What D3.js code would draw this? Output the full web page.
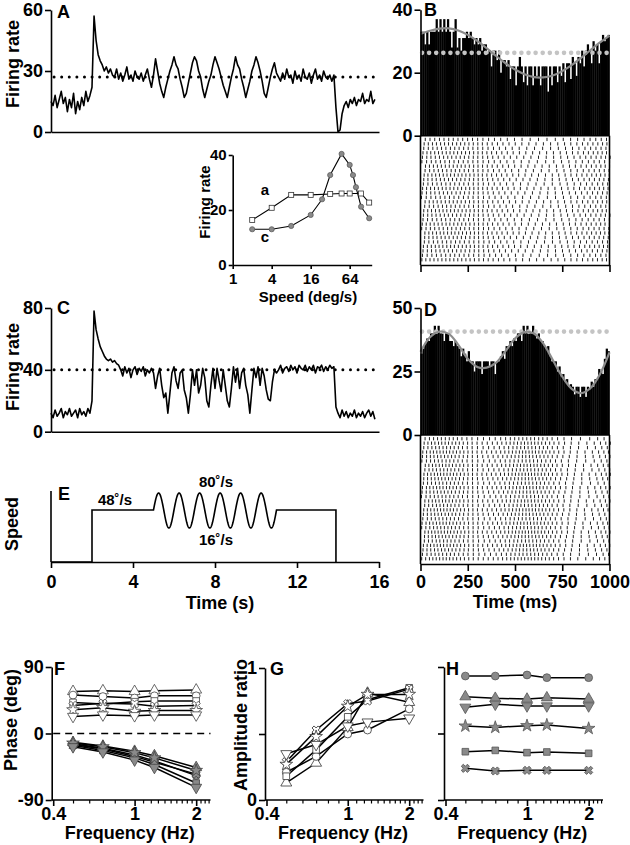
<!DOCTYPE html>
<html>
<head>
<meta charset="utf-8">
<script src="https://cdn.jsdelivr.net/npm/d3@7"></script>
<style>
  body { margin: 0; background: #fff; }
  svg { display: block; font-family: "Liberation Sans", Arial, Helvetica, sans-serif; font-weight: bold; }
</style>
</head>
<body>
<svg width="630" height="845"></svg>
<script>
// ---------------- data ----------------
// A and C: firing rate sampled every 0.1 s from 0 to 15.8 s
const traceStep = 0.1;
const rateA = [15, 13, 18, 12, 16, 20, 14, 17, 10, 16, 12, 19, 9, 15, 11, 17, 13, 20, 15, 18,
  22, 57, 45, 38, 35, 33, 30, 32, 29, 31, 28,
  27, 31, 26, 29, 25, 28, 32, 26, 28, 25, 30, 27, 26, 29, 25, 28, 31, 26, 22,
  28, 36, 30, 24, 20, 17, 22, 26, 30, 33,
  37, 33, 31, 26, 22, 17, 19, 24, 29, 34,
  37, 35, 30, 27, 21, 17, 21, 25, 28, 33,
  37, 34, 31, 27, 23, 20, 17, 22, 27, 31,
  37, 33, 31, 26, 22, 17, 21, 25, 30, 33,
  37, 34, 30, 25, 19, 17, 22, 27, 31, 34, 29,
  27, 25, 29, 26, 31, 27, 28, 24, 30, 26, 28, 25, 31, 27, 26, 29, 24, 28, 31, 26, 28, 25, 30, 27, 26, 28, 25, 28,
  12, 0, 1, 9, 13, 15, 12, 16, 14, 17, 13, 16, 15, 19, 14, 16, 15, 20, 14, 16];
const rateC = [12, 9, 14, 10, 12, 15, 9, 13, 11, 15, 10, 12, 14, 9, 15, 11, 13, 10, 15, 12,
  20, 78, 66, 60, 55, 52, 49, 47, 46, 47, 45, 46, 44, 43,
  40, 36, 42, 38, 41, 35, 40, 42, 37, 41, 39, 42, 36, 40, 38, 41,
  38, 28, 36, 41, 30, 22, 25, 12, 25, 38,
  42, 33, 28, 38, 40, 27, 22, 12, 24, 40,
  30, 40, 25, 30, 41, 35, 20, 16, 30, 41,
  28, 41, 33, 26, 40, 30, 20, 16, 28, 42,
  32, 41, 28, 38, 41, 30, 24, 12, 27, 41,
  35, 42, 30, 41, 36, 27, 21, 20, 32, 40, 38,
  40, 43, 38, 41, 42, 39, 43, 40, 42, 38, 43, 41, 40, 43, 39, 42, 40, 43, 38, 42, 41, 43, 39, 42, 40, 43, 41, 42,
  16, 12, 9, 14, 10, 13, 9, 12, 10, 14, 9, 12, 10, 13, 9, 12, 14, 10, 13, 8];
const meanA = 27;
const meanC = 40;

// inset: speed tuning
const insetSpeedA = [2, 4, 8, 16, 32, 48, 64, 96, 128];
const insetRateA = [16.4, 20.8, 25.5, 25.5, 25.8, 26, 26, 26, 22.7];
const insetSpeedC = [2, 4, 8, 16, 24, 32, 48, 64, 72, 80, 96, 128];
const insetRateC = [13, 13, 14.2, 18.2, 23.9, 32.7, 40.4, 36.4, 32.7, 28.3, 21.2, 17];

// E: stimulus speed schematic
const stimOn = 2, stimOff = 13.9, sineOn = 5, sineOff = 11, sineCycles = 6;
const speedBase = 48, speedMax = 80, speedMin = 16;

// B and D: PSTH (10 ms bins), sinusoid fit (every 50 ms), mean rate
const binMs = 10;
const histB = [33, 33, 29, 33, 29, 33, 33, 33, 37, 33,
  37, 33, 37, 33, 37, 33, 28, 33, 37, 28,
  31, 27, 31, 31, 33, 31, 33, 31, 29, 31,
  29, 31, 27, 29, 29, 26, 27, 22, 27, 27,
  24, 27, 20, 24, 24, 22, 24, 18, 22, 22,
  16, 22, 25, 22, 17, 22, 16, 22, 22, 16,
  22, 19, 22, 16, 22, 22, 22, 14, 22, 16,
  22, 22, 17, 22, 19, 23, 17, 23, 23, 18,
  25, 23, 19, 25, 23, 27, 22, 27, 29, 27,
  23, 30, 27, 29, 23, 30, 32, 30, 31, 32];
const histD = [32, 34, 36, 38, 37, 40, 40, 43, 40, 43,
  40, 40, 37, 40, 40, 37, 37, 35, 37, 35,
  34, 31, 34, 32, 29, 33, 29, 29, 25, 29,
  29, 29, 24, 29, 29, 29, 27, 29, 29, 24,
  29, 29, 31, 33, 30, 35, 35, 37, 35, 38,
  37, 40, 40, 37, 43, 40, 43, 40, 40, 43,
  40, 38, 40, 37, 37, 35, 34, 35, 31, 29,
  29, 29, 25, 27, 23, 24, 21, 22, 19, 20,
  19, 16, 19, 19, 15, 19, 19, 15, 19, 18,
  21, 19, 22, 22, 26, 25, 24, 30, 34, 33];
const fitStepMs = 50;
const fitB = [32.3, 33.3, 34.0, 34.1, 33.4, 32.0, 30.1, 27.8, 25.3, 23.0, 21.0,
  19.5, 18.6, 18.5, 19.1, 20.5, 22.4, 24.7, 27.2, 29.6, 31.8];
const fitD = [32.8, 38.5, 40.7, 39.8, 35.5, 30.0, 26.8, 26.5, 28.5, 33.0, 38.0,
  40.5, 40.0, 36.0, 29.5, 23.0, 18.2, 16.5, 18.5, 24.0, 32.5];
const meanB = 26.3;
const meanD = 40.7;
const nTrials = 28;

// F, G, H: one row per cell, same symbol order in every panel
const freqs = [0.5, 0.7, 1, 1.25, 2];
const cellShapes = ["triUp", "circle", "square", "cross", "star", "triDown"];
const phaseLead = [[57, 58, 57, 58, 59], [52, 50, 48, 51, 51], [42, 40, 43, 44, 44],
  [38, 41, 40, 37, 38], [32, 35, 30, 31, 31], [23, 25, 24, 25, 25]];
const phaseLag = [[-12, -17, -24, -30, -46], [-14, -20, -29, -37, -57], [-16, -23, -33, -42, -67],
  [-15, -21, -31, -39, -55], [-13, -18, -26, -33, -50], [-18, -25, -36, -46, -73]];
const ampRatioG = [[0.13, 0.28, 0.55, 0.81, 0.74], [0.21, 0.33, 0.50, 0.53, 0.69], [0.18, 0.38, 0.63, 0.76, 0.85],
  [0.29, 0.53, 0.73, 0.75, 0.84], [0.27, 0.48, 0.71, 0.80, 0.80], [0.35, 0.42, 0.56, 0.59, 0.62]];
const ampRatioH = [[0.777, 0.765, 0.759, 0.769, 0.759], [0.932, 0.932, 0.94, 0.92, 0.92], [0.363, 0.373, 0.356, 0.361, 0.351],
  [0.238, 0.218, 0.223, 0.223, 0.223], [0.556, 0.546, 0.559, 0.564, 0.538], [0.697, 0.72, 0.707, 0.707, 0.707]];
const freqTicks = [0.4, 0.5, 0.6, 0.7, 0.8, 0.9, 1, 1.1, 1.2, 1.3, 1.4, 1.5, 1.6, 1.7, 1.8, 1.9, 2, 2.1, 2.2, 2.3];
const freqLabels = [0.4, 1, 2];

// ---------------- drawing ----------------
const svg = d3.select("svg");

function styleAxis(g, fs) {
  g.attr("font-family", null).attr("font-size", fs).attr("font-weight", "bold");
  g.select(".domain").attr("stroke", "#000").attr("stroke-width", 1.6);
  g.selectAll(".tick line").attr("stroke", "#000").attr("stroke-width", 1.6);
  g.selectAll(".tick text").attr("fill", "#000");
}

function label(x, y, s, fs, anchor, rotate) {
  const t = svg.append("text")
    .attr("font-size", fs)
    .attr("text-anchor", anchor || "start")
    .text(s);
  if (rotate) t.attr("transform", `translate(${x},${y}) rotate(-90)`);
  else t.attr("x", x).attr("y", y);
  return t;
}

// ---- A and C: firing-rate traces ----
const xT = d3.scaleLinear().domain([0, 16]).range([51, 379]);

function tracePanel(rates, mean, y, ticks, letter, letterY) {
  const pts = rates.map((v, i) => [i * traceStep, v]);
  svg.append("line")
    .attr("x1", xT(0.15)).attr("x2", xT(15.9))
    .attr("y1", y(mean)).attr("y2", y(mean))
    .attr("stroke", "#000").attr("stroke-width", 3)
    .attr("stroke-linecap", "round").attr("stroke-dasharray", "0 7.6");
  svg.append("path").datum(pts)
    .attr("d", d3.line().x(d => xT(d[0])).y(d => y(d[1])))
    .attr("fill", "none").attr("stroke", "#000")
    .attr("stroke-width", 1.6).attr("stroke-linejoin", "round");
  svg.append("g").attr("transform", `translate(${xT(0)},0)`)
    .call(d3.axisLeft(y).tickValues(ticks).tickSize(6).tickPadding(2).tickSizeOuter(0))
    .call(styleAxis, 18);
  svg.append("g").attr("transform", `translate(0,${y(0)})`)
    .call(d3.axisBottom(xT).tickValues([]).tickSizeOuter(0))
    .call(styleAxis, 18);
  label(57, letterY, letter, 18);
}

const yA = d3.scaleLinear().domain([0, 60]).range([132, 10]);
tracePanel(rateA, meanA, yA, [0, 30, 60], "A", 18);
label(19, 64, "Firing rate", 18, "middle", true);

const yC = d3.scaleLinear().domain([0, 80]).range([431.7, 308]);
tracePanel(rateC, meanC, yC, [0, 40, 80], "C", 314);
label(19, 367, "Firing rate", 18, "middle", true);

// ---- inset: speed tuning ----
const xIn = d3.scaleLog().base(2).domain([1, 140]).range([232.7, 371.7]);
const yIn = d3.scaleLinear().domain([0, 40]).range([265, 155]);
const inLine = d3.line().x(d => xIn(d[0])).y(d => yIn(d[1]));
const ptsInA = insetSpeedA.map((s, i) => [s, insetRateA[i]]);
const ptsInC = insetSpeedC.map((s, i) => [s, insetRateC[i]]);
svg.append("path").datum(ptsInA).attr("d", inLine).attr("fill", "none").attr("stroke", "#000").attr("stroke-width", 1.1);
svg.append("path").datum(ptsInC).attr("d", inLine).attr("fill", "none").attr("stroke", "#000").attr("stroke-width", 1.1);
svg.selectAll(".inC").data(ptsInC).enter().append("circle")
  .attr("cx", d => xIn(d[0])).attr("cy", d => yIn(d[1])).attr("r", 2.6)
  .attr("fill", "#8a8a8a").attr("stroke", "#555").attr("stroke-width", 0.7);
svg.selectAll(".inA").data(ptsInA).enter().append("rect")
  .attr("x", d => xIn(d[0]) - 2.5).attr("y", d => yIn(d[1]) - 2.5)
  .attr("width", 5).attr("height", 5)
  .attr("fill", "#fff").attr("stroke", "#333").attr("stroke-width", 0.8);
svg.append("g").attr("transform", `translate(${xIn(1)},0)`)
  .call(d3.axisLeft(yIn).tickValues([0, 20, 40]).tickSize(4).tickPadding(2).tickSizeOuter(0))
  .call(styleAxis, 15);
svg.append("g").attr("transform", `translate(0,${yIn(0)})`)
  .call(d3.axisBottom(xIn).tickValues([1, 4, 16, 64]).tickFormat(d3.format("d")).tickSize(4).tickPadding(4).tickSizeOuter(0))
  .call(styleAxis, 15);
label(265, 195, "a", 15, "middle");
label(265, 242, "c", 15, "middle");
label(308, 302, "Speed (deg/s)", 15, "middle");
label(210, 202, "Firing rate", 15, "middle", true);

// ---- E: speed schematic ----
const yE = d3.scaleLinear().domain([0, speedMin, speedBase, speedMax]).range([562, 528, 510, 493]);
const speedPts = [[0, 0], [stimOn, 0], [stimOn, speedBase], [sineOn, speedBase]];
for (let t = sineOn; t <= sineOff + 1e-9; t += 0.02) {
  const amp = (speedMax - speedMin) / 2;
  speedPts.push([t, speedBase + amp * Math.sin(2 * Math.PI * (t - sineOn) * sineCycles / (sineOff - sineOn))]);
}
speedPts.push([sineOff, speedBase], [stimOff, speedBase], [stimOff, 0]);
svg.append("path").datum(speedPts)
  .attr("d", d3.line().x(d => xT(d[0])).y(d => yE(d[1])))
  .attr("fill", "none").attr("stroke", "#000").attr("stroke-width", 1.6);
svg.append("line").attr("x1", xT(0)).attr("x2", xT(0)).attr("y1", yE(0)).attr("y2", yE(84))
  .attr("stroke", "#000").attr("stroke-width", 1.6);
svg.append("g").attr("transform", `translate(0,${yE(0)})`)
  .call(d3.axisBottom(xT).tickValues([0, 4, 8, 12, 16]).tickSize(6).tickPadding(7).tickSizeOuter(0))
  .call(styleAxis, 18);
label(58, 500, "E", 18);
label(115, 505, "48˚/s", 15, "middle");
label(216, 487, "80˚/s", 15, "middle");
label(216, 545, "16˚/s", 15, "middle");
label(220, 609, "Time (s)", 18, "middle");
label(18, 524, "Speed", 18, "middle", true);

// ---- B and D: PSTH + raster ----
const xP = d3.scaleLinear().domain([0, 1000]).range([420.5, 609.5]);

function fitRate(fit, t) {
  const p = t / fitStepMs, i = Math.min(Math.floor(p), fit.length - 2), f = p - i;
  return fit[i] * (1 - f) + fit[i + 1] * f;
}

function psthPanel(hist, fit, mean, y, ticks, rasterBot, showLabels, letter, letterY) {
  const bw = xP(binMs) - xP(0);
  svg.selectAll(null).data(hist).enter().append("rect")
    .attr("x", (d, i) => xP(i * binMs)).attr("width", bw + 0.35)
    .attr("y", d => y(d)).attr("height", d => y(0) - y(d))
    .attr("fill", "#000");
  svg.append("line")
    .attr("x1", xP(8)).attr("x2", xP(995)).attr("y1", y(mean)).attr("y2", y(mean))
    .attr("stroke", "#c4c4c4").attr("stroke-width", 4.6)
    .attr("stroke-linecap", "round").attr("stroke-dasharray", "0 7.1");
  const fitPts = fit.map((v, i) => [i * fitStepMs, v]);
  svg.append("path").datum(fitPts)
    .attr("d", d3.line().x(d => xP(d[0])).y(d => y(d[1])).curve(d3.curveCatmullRom))
    .attr("fill", "none").attr("stroke", "#8c8c8c").attr("stroke-width", 2.2);

  // raster rows: individual spikes cannot be read, so each trial's spikes are
  // placed by integrating the fitted rate (trial-specific start phase and gain)
  const top = y(0) + 1.5, rowH = (rasterBot - 3 - top) / nTrials;
  const ticksR = [];
  for (let r = 0; r < nTrials; r++) {
    let acc = (r * 0.137 + 0.21) % 1;
    const gain = 1.35 + 0.3 * (((r * 0.618034) % 1) - 0.5);
    for (let t = 0; t < 1000; t++) {
      acc += gain * fitRate(fit, t) / 1000;
      if (acc >= 1) { ticksR.push([t, r]); acc -= 1; }
    }
  }
  svg.selectAll(null).data(ticksR).enter().append("line")
    .attr("x1", d => xP(d[0]) + 1).attr("x2", d => xP(d[0]) + 1)
    .attr("y1", d => top + d[1] * rowH + 0.6).attr("y2", d => top + d[1] * rowH + rowH - 0.6)
    .attr("stroke", "#222").attr("stroke-width", 1);

  svg.append("line").attr("x1", xP(0)).attr("x2", xP(1000)).attr("y1", y(0)).attr("y2", y(0))
    .attr("stroke", "#000").attr("stroke-width", 1.6);
  svg.append("line").attr("x1", xP(1000)).attr("x2", xP(1000)).attr("y1", y(0)).attr("y2", rasterBot)
    .attr("stroke", "#000").attr("stroke-width", 1.6);
  svg.append("line").attr("x1", xP(0)).attr("x2", xP(0)).attr("y1", y(0)).attr("y2", rasterBot)
    .attr("stroke", "#000").attr("stroke-width", 1.6);
  svg.append("g").attr("transform", `translate(${xP(0)},0)`)
    .call(d3.axisLeft(y).tickValues(ticks).tickSize(6).tickPadding(2).tickSizeOuter(0))
    .call(styleAxis, 18);
  const xa = d3.axisBottom(xP).tickValues([0, 250, 500, 750, 1000]).tickSize(7).tickPadding(4).tickSizeOuter(0)
    .tickFormat(showLabels ? d3.format("d") : "");
  svg.append("g").attr("transform", `translate(0,${rasterBot})`).call(xa).call(styleAxis, 18);
  label(424, letterY, letter, 18);
}

const yB = d3.scaleLinear().domain([0, 40]).range([135.7, 9.7]);
psthPanel(histB, fitB, meanB, yB, [0, 20, 40], 265, false, "B", 16);
const yD = d3.scaleLinear().domain([0, 50]).range([435, 308]);
psthPanel(histD, fitD, meanD, yD, [0, 25, 50], 564, true, "D", 316);
label(515, 608, "Time (ms)", 18, "middle");

// ---- F, G, H: frequency responses ----
function symbolPath(shape) {
  const s = {
    circle: [d3.symbolCircle, 48, 0], square: [d3.symbolSquare, 44, 0],
    triUp: [d3.symbolTriangle, 52, 0], triDown: [d3.symbolTriangle, 52, 180],
    star: [d3.symbolStar, 50, 0], cross: [d3.symbolCross, 42, 45]
  }[shape];
  return { d: d3.symbol(s[0], s[1])(), rot: s[2] };
}

function freqPanel(x, y, groups, yTicks, yLabels, letter, letterX) {
  const x0 = x.range()[0] - 1.5;
  const lineGen = d3.line().x(d => x(d[0])).y(d => y(d[1]));
  groups.forEach(gr => {
    gr.rows.forEach(row => {
      svg.append("path").datum(freqs.map((f, i) => [f, row[i]]))
        .attr("d", lineGen).attr("fill", "none").attr("stroke", "#000").attr("stroke-width", 1.5);
    });
  });
  groups.forEach(gr => {
    gr.rows.forEach((row, k) => {
      const sp = symbolPath(cellShapes[k]);
      svg.selectAll(null).data(freqs.map((f, i) => [f, row[i]])).enter().append("path")
        .attr("d", sp.d)
        .attr("transform", d => `translate(${x(d[0])},${y(d[1])}) rotate(${sp.rot})`)
        .attr("fill", gr.fill).attr("stroke", gr.stroke).attr("stroke-width", 0.8);
    });
  });
  const ya = d3.axisLeft(y).tickValues(yTicks).tickSize(6).tickPadding(2).tickSizeOuter(0)
    .tickFormat(d => yLabels.includes(d) ? d : "");
  svg.append("g").attr("transform", `translate(${x0},0)`).call(ya).call(styleAxis, 18);
  const xa = d3.axisBottom(x).tickValues(freqTicks).tickSize(6).tickPadding(1).tickSizeOuter(0)
    .tickFormat(d => freqLabels.includes(d) ? d : "");
  const gx = svg.append("g").attr("transform", `translate(0,${y.range()[0]})`).call(xa).call(styleAxis, 18);
  gx.selectAll(".tick").filter(d => !freqLabels.includes(d)).select("line").attr("y2", 3.5).attr("stroke-width", 1.2);
  gx.select(".domain").attr("d", `M${x0},0H${x.range()[1]}`);
  label(letterX, 675, letter, 18);
  label((x(0.4) + x(2.35)) / 2 - 2, 839, "Frequency (Hz)", 18, "middle");
}

const xF = d3.scaleLog().domain([0.4, 2.35]).range([53.2, 210.5]);
const yF = d3.scaleLinear().domain([-90, 90]).range([800, 667]);
svg.append("line").attr("x1", xF(0.4)).attr("x2", xF(2.35)).attr("y1", yF(0)).attr("y2", yF(0))
  .attr("stroke", "#000").attr("stroke-width", 1.6).attr("stroke-dasharray", "7 5");
freqPanel(xF, yF, [
  { rows: phaseLead, fill: "#fff", stroke: "#444" },
  { rows: phaseLag, fill: "#8a8a8a", stroke: "#444" }
], [-90, 0, 90], [-90, 0, 90], "F", 54);
label(17, 720, "Phase (deg)", 18, "middle", true);

const xG = d3.scaleLog().domain([0.4, 2.35]).range([266.5, 423.5]);
const yG = d3.scaleLinear().domain([0, 1]).range([800, 668]);
freqPanel(xG, yG, [{ rows: ampRatioG, fill: "#fff", stroke: "#333" }], [0, 0.5, 1], [0, 1], "G", 270);
label(247, 725, "Amplitude ratio", 18, "middle", true);

const xH = d3.scaleLog().domain([0.4, 2.35]).range([445.5, 603]);
const yH = d3.scaleLinear().domain([0, 1]).range([800, 667]);
freqPanel(xH, yH, [{ rows: ampRatioH, fill: "#8a8a8a", stroke: "#555" }], [0, 0.5, 1], [], "H", 446);
</script>
</body>
</html>
